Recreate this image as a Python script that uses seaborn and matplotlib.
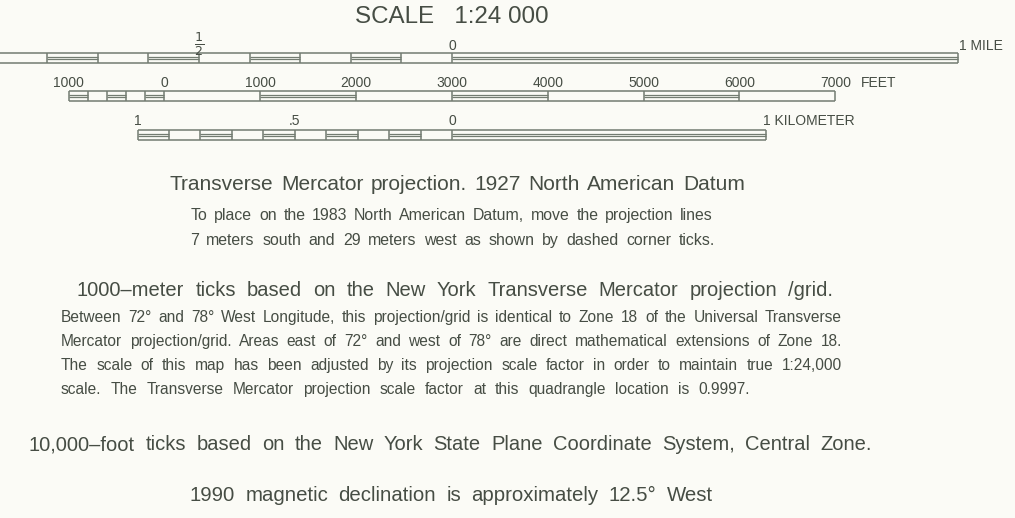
import seaborn as sns
import matplotlib.pyplot as plt

# scale bar data (units of each bar)
mile_ticks = [-1.0, -0.9, -0.8, -0.7, -0.6, -0.5, -0.4, -0.3, -0.2, -0.1, 0.0, 1.0]
mile_filled = [True, False, True, False, True, False, True, False, True, False, True]
mile_labels = {-0.5: r"$\frac{1}{2}$", 0.0: "0"}

feet_ticks = [-1000, -800, -600, -400, -200, 0, 1000, 2000, 3000, 4000, 5000, 6000, 7000]
feet_filled = [True, False, True, False, True, False, True, False, True, False, True, False]
feet_labels = [-1000, 0, 1000, 2000, 3000, 4000, 5000, 6000, 7000]

km_ticks = [-1.0, -0.9, -0.8, -0.7, -0.6, -0.5, -0.4, -0.3, -0.2, -0.1, 0.0, 1.0]
km_filled = [True, False, True, False, True, False, True, False, True, False, True]
km_labels = {-1.0: "1", -0.5: ".5", 0.0: "0"}

# text lines: (text, fontsize, left, right, y)
notes = [
    ("Transverse Mercator projection. 1927 North American Datum", 15.0, 170, 745, 183),
    ("To place on the 1983 North American Datum, move the projection lines", 11.4, 191, 713, 214),
    ("7 meters south and 29 meters west as shown by dashed corner ticks.", 11.4, 190, 715, 239),
    ("1000–meter ticks based on the New York Transverse Mercator projection /grid.", 14.5, 77, 833, 289),
    ("Between 72° and 78° West Longitude, this projection/grid is identical to Zone 18 of the Universal Transverse", 11.2, 61, 842, 316),
    ("Mercator projection/grid. Areas east of 72° and west of 78° are direct mathematical extensions of Zone 18.", 11.2, 61, 842, 340),
    ("The scale of this map has been adjusted by its projection scale factor in order to maintain true 1:24,000", 11.2, 61, 842, 364),
    ("scale. The Transverse Mercator projection scale factor at this quadrangle location is 0.9997.", 11.2, 61, 750, 388),
    ("10,000–foot ticks based on the New York State Plane Coordinate System, Central Zone.", 14.5, 29, 872, 443),
    ("1990 magnetic declination is approximately 12.5° West", 14.7, 190, 713, 494),
]

sns.set_theme(style="white")
plt.rcParams['font.family'] = ['Liberation Sans', 'DejaVu Sans']

PAPER = "#fbfbf6"
INK = "#464d44"
LINE = "#737c71"

fig = plt.figure(figsize=(10.15, 5.18), dpi=100, facecolor=PAPER)
ax = fig.add_axes([0, 0, 1, 1])
ax.set_facecolor(PAPER)
ax.set_xlim(0, 1015)
ax.set_ylim(518, 0)
ax.axis("off")

mile_px = 506.0
per_unit = {"mile": mile_px, "feet": mile_px / 5280.0, "km": mile_px / 1.609344}
# where the zero of each bar sits
zero = {"mile": 452, "feet": 452 - 3000 * per_unit["feet"], "km": 452}


def to_px(v, kind):
    return zero[kind] + v * per_unit[kind]


def draw_bar(ticks, filled, kind, top, bottom):
    xs = [to_px(t, kind) for t in ticks]
    ax.hlines([top, bottom], xs[0], xs[-1], color=LINE, lw=1.1)
    ax.vlines(xs, top, bottom, color=LINE, lw=1.1)
    h = bottom - top
    for i, f in enumerate(filled):
        if f:
            ax.hlines([top + h * 0.42, top + h * 0.6], xs[i], xs[i + 1], color=LINE, lw=0.9)
    return xs


ax.text(452, 17, "SCALE   1:24 000", ha="center", va="center", fontsize=17.4, color=INK)

# mile bar
xs = draw_bar(mile_ticks, mile_filled, "mile", 53, 63)
for v, lab in mile_labels.items():
    if lab == "0":
        ax.text(to_px(v, "mile"), 46, lab, ha="center", va="center", fontsize=10, color=INK)
    else:
        ax.text(to_px(v, "mile"), 44, lab, ha="center", va="center", fontsize=13, color=INK)
ax.text(xs[-1] + 1, 46, "1 MILE", ha="left", va="center", fontsize=10, color=INK)

# feet bar
xs = draw_bar(feet_ticks, feet_filled, "feet", 91, 101)
for v in feet_labels:
    ax.text(to_px(v, "feet"), 83, str(abs(v)), ha="center", va="center", fontsize=10, color=INK)
ax.text(to_px(7000, "feet") + 26, 83, "FEET", ha="left", va="center", fontsize=10, color=INK)

# kilometer bar
xs = draw_bar(km_ticks, km_filled, "km", 130, 140)
for v, lab in km_labels.items():
    ax.text(to_px(v, "km"), 121, lab, ha="center", va="center", fontsize=10, color=INK)
ax.text(xs[-1] - 3, 121, "1 KILOMETER", ha="left", va="center", fontsize=10, color=INK)

# justified notes, words sit on a common baseline
renderer = fig.canvas.get_renderer()
for text, size, left, right, y in notes:
    base = y + size * 100 / 72 * 0.36
    words = text.split()
    items = [ax.text(0, base, w, ha="left", va="baseline", fontsize=size, color=INK) for w in words]
    widths = [t.get_window_extent(renderer).width for t in items]
    gap = (right - left - sum(widths)) / max(len(words) - 1, 1)
    x = left
    for t, w in zip(items, widths):
        t.set_x(x)
        x += w + gap

fig.savefig("out.png", dpi=100, facecolor=PAPER)
